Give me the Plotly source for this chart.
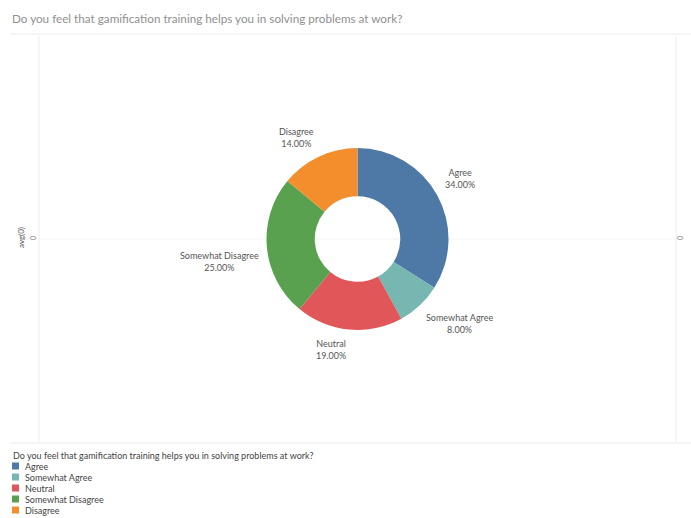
import math
import plotly.graph_objects as go

# Survey responses
categories = ["Agree", "Somewhat Agree", "Neutral", "Somewhat Disagree", "Disagree"]
shares = [34.0, 8.0, 19.0, 25.0, 14.0]
colors = ["#4e79a7", "#76b7b2", "#e15759", "#59a14f", "#f28e2b"]
question = "Do you feel that gamification training helps you in solving problems at work?"
axis_title = "avg(0)"
axis_tick = "0"

W, H = 691, 518
CX, CY, R = 357.5, 239.0, 91.0      # donut centre / outer radius (px)
HOLE = 0.47
LABEL_R = R + 6


def px(x):
    return x / W


def py(y):
    return 1 - y / H


fig = go.Figure()
fig.add_trace(go.Pie(
    labels=categories,
    values=shares,
    marker=dict(colors=colors, line=dict(width=0)),
    hole=HOLE,
    sort=False,
    direction="clockwise",
    rotation=0,
    textinfo="none",
    hoverinfo="label+percent",
    showlegend=False,
    domain=dict(x=[px(CX - R), px(CX + R)], y=[py(CY + R), py(CY - R)]),
))

shapes = []
grid = "#ececec"
# frame lines of the view
shapes.append(dict(type="line", xref="paper", yref="paper",
                   x0=px(10), x1=px(691), y0=py(34), y1=py(34),
                   line=dict(color=grid, width=1)))
shapes.append(dict(type="line", xref="paper", yref="paper",
                   x0=px(10), x1=px(691), y0=py(443), y1=py(443),
                   line=dict(color=grid, width=1)))
shapes.append(dict(type="line", xref="paper", yref="paper",
                   x0=px(39), x1=px(39), y0=py(36), y1=py(443),
                   line=dict(color=grid, width=1)))
shapes.append(dict(type="line", xref="paper", yref="paper",
                   x0=px(676), x1=px(676), y0=py(36), y1=py(443),
                   line=dict(color=grid, width=1)))
shapes.append(dict(type="line", xref="paper", yref="paper", layer="below",
                   x0=px(39), x1=px(676), y0=py(239), y1=py(239),
                   line=dict(color="#f4f4f4", width=1)))

annotations = []
label_font = dict(family="Lato, Liberation Sans, sans-serif", size=9, color="#555555")

# slice labels: nearest corner of the text sits at the slice's mid-angle, just outside
total = sum(shares)
cum = 0.0
for name, v in zip(categories, shares):
    mid = (cum + v / 2) / total * 2 * math.pi
    cum += v
    s, c = math.sin(mid), math.cos(mid)
    x = CX + LABEL_R * s
    y = CY - LABEL_R * c
    xa = "left" if s >= 0 else "right"
    ya = "bottom" if c >= 0 else "top"
    annotations.append(dict(
        x=px(x), y=py(y), xref="paper", yref="paper",
        xanchor=xa, yanchor=ya, align="center", showarrow=False,
        text=f"{name}<br>{v / total * 100:.2f}%", font=label_font,
    ))

# title
annotations.append(dict(
    x=px(10), y=py(18), xref="paper", yref="paper", xanchor="left", yanchor="middle",
    showarrow=False, text=question,
    font=dict(family="Lato, Liberation Sans, sans-serif", size=11.7, color="#8f8f8f"),
))

# axis title and ticks
annotations.append(dict(
    x=px(21), y=py(238), xref="paper", yref="paper", xanchor="center", yanchor="middle",
    showarrow=False, text=axis_title, textangle=-90,
    font=dict(family="Lato, Liberation Sans, sans-serif", size=8, color="#555555"),
))
annotations.append(dict(
    x=px(33), y=py(238), xref="paper", yref="paper", xanchor="center", yanchor="middle",
    showarrow=False, text=axis_tick, textangle=-90,
    font=dict(family="Lato, Liberation Sans, sans-serif", size=7, color="#888888"),
))
annotations.append(dict(
    x=px(680), y=py(238), xref="paper", yref="paper", xanchor="center", yanchor="middle",
    showarrow=False, text=axis_tick, textangle=-90,
    font=dict(family="Lato, Liberation Sans, sans-serif", size=7, color="#888888"),
))

# colour legend
leg_font = dict(family="Lato, Liberation Sans, sans-serif", size=9, color="#444444")
annotations.append(dict(
    x=px(11), y=py(455), xref="paper", yref="paper", xanchor="left", yanchor="middle",
    showarrow=False, text=question, font=leg_font,
))
for i, (name, col) in enumerate(zip(categories, colors)):
    yc = 466 + i * 11
    shapes.append(dict(type="rect", xref="paper", yref="paper",
                       x0=px(12), x1=px(19), y0=py(yc + 3.5), y1=py(yc - 3.5),
                       fillcolor=col, line=dict(width=0)))
    annotations.append(dict(
        x=px(23), y=py(yc), xref="paper", yref="paper", xanchor="left", yanchor="middle",
        showarrow=False, text=name, font=leg_font,
    ))

fig.update_layout(
    width=W, height=H,
    margin=dict(l=0, r=0, t=0, b=0),
    paper_bgcolor="white",
    plot_bgcolor="white",
    shapes=shapes,
    annotations=annotations,
)

fig.write_html("out.html")
